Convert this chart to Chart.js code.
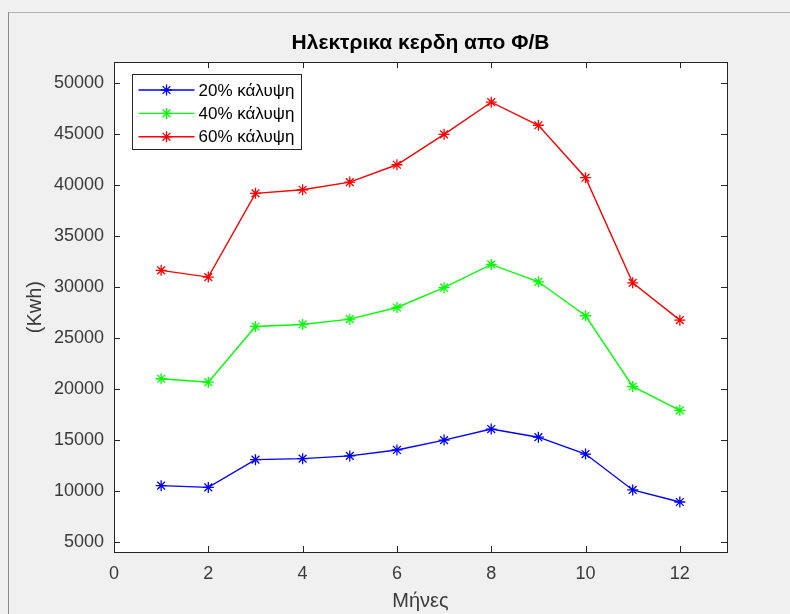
<!DOCTYPE html>
<html>
<head>
<meta charset="utf-8">
<script src="https://cdn.jsdelivr.net/npm/chart.js@4"></script>
<style>
  body { margin: 0; background: #f0f0f0; }
  #wrap { width: 790px; height: 614px; position: relative; }
</style>
</head>
<body>
<div id="wrap"><canvas id="myChart"></canvas></div>
<script>
'use strict';

// months on the x axis
const months = [1, 2, 3, 4, 5, 6, 7, 8, 9, 10, 11, 12];
const cover20 = [10500, 10330, 13050, 13150, 13420, 14000, 14970, 16050, 15250, 13600, 10080, 8900];
const cover40 = [20980, 20640, 26100, 26300, 26820, 27960, 29900, 32180, 30480, 27150, 20220, 17880];
const cover60 = [31600, 30940, 39150, 39500, 40250, 41950, 44930, 48080, 45820, 40680, 30380, 26720];
const seriesLabels = ['20% κάλυψη', '40% κάλυψη', '60% κάλυψη'];
const xTicks = [0, 2, 4, 6, 8, 10, 12];
const yTicks = [5000, 10000, 15000, 20000, 25000, 30000, 35000, 40000, 45000, 50000];

const FONT = "'Liberation Sans', Arial, sans-serif";
const AXIS_COLOR = '#262626';

Chart.defaults.font.family = FONT;

function pts(vals) {
    return months.map((m, i) => ({ x: m, y: vals[i] }));
}

function mkSet(label, vals, color) {
    return {
        label: label,
        data: pts(vals),
        borderColor: color,
        backgroundColor: color,
        borderWidth: 1.4,
        pointStyle: 'star',
        pointRadius: 5.5,
        pointBorderWidth: 1.3,
        pointBorderColor: color,
        tension: 0
    };
}

function drawStar(c, x, y, r) {
    c.beginPath();
    c.moveTo(x - r, y); c.lineTo(x + r, y);
    c.moveTo(x, y - r); c.lineTo(x, y + r);
    const d = r * 0.7071;
    c.moveTo(x - d, y - d); c.lineTo(x + d, y + d);
    c.moveTo(x - d, y + d); c.lineTo(x + d, y - d);
    c.stroke();
}

// figure background, white axes, matlab style box + inward ticks, legend
const matlabLook = {
    id: 'matlabLook',
    beforeDraw(chart) {
        const c = chart.ctx, a = chart.chartArea;
        c.save();
        c.fillStyle = '#f0f0f0';
        c.fillRect(0, 0, chart.width, chart.height);
        c.fillStyle = '#ffffff';
        c.fillRect(a.left, a.top, a.right - a.left, a.bottom - a.top);
        // window edges
        c.strokeStyle = '#b4b4b4';
        c.lineWidth = 1;
        c.beginPath(); c.moveTo(8, 12.5); c.lineTo(chart.width, 12.5); c.stroke();
        c.strokeStyle = '#8c8c8c';
        c.beginPath(); c.moveTo(8.5, 12); c.lineTo(8.5, chart.height); c.stroke();
        c.restore();
    },
    afterDatasetsDraw(chart) {
        const c = chart.ctx, a = chart.chartArea;
        const xs = chart.scales.x, ys = chart.scales.y;
        const tl = 6;
        c.save();
        c.strokeStyle = AXIS_COLOR;
        c.lineWidth = 1;
        c.beginPath();
        xs.ticks.forEach(t => {
            const px = Math.round(xs.getPixelForValue(t.value)) + 0.5;
            c.moveTo(px, a.bottom); c.lineTo(px, a.bottom - tl);
            c.moveTo(px, a.top); c.lineTo(px, a.top + tl);
        });
        ys.ticks.forEach(t => {
            const py = Math.round(ys.getPixelForValue(t.value)) + 0.5;
            c.moveTo(a.left, py); c.lineTo(a.left + tl, py);
            c.moveTo(a.right, py); c.lineTo(a.right - tl, py);
        });
        c.stroke();
        c.strokeRect(Math.round(a.left) + 0.5, Math.round(a.top) + 0.5,
            Math.round(a.right - a.left), Math.round(a.bottom - a.top));
        c.restore();
    },
    afterDraw(chart) {
        const c = chart.ctx, a = chart.chartArea;
        const bx = Math.round(a.left + 18) + 0.5, by = Math.round(a.top + 12) + 0.5;
        const bw = 169, bh = 75;
        c.save();
        c.fillStyle = '#ffffff';
        c.fillRect(bx, by, bw, bh);
        c.strokeStyle = AXIS_COLOR;
        c.lineWidth = 1;
        c.strokeRect(bx, by, bw, bh);
        c.font = '17px ' + FONT;
        c.textBaseline = 'middle';
        c.textAlign = 'left';
        chart.data.datasets.forEach((ds, i) => {
            const y = by + 15.5 + i * 23.4;
            c.strokeStyle = ds.borderColor;
            c.lineWidth = 1.4;
            c.beginPath(); c.moveTo(bx + 6, y); c.lineTo(bx + 62, y); c.stroke();
            c.lineWidth = 1.3;
            drawStar(c, bx + 34, y, 5.5);
            c.fillStyle = '#000000';
            c.fillText(ds.label, bx + 66, y + 1);
        });
        c.restore();
    }
};

const ctx = document.getElementById('myChart').getContext('2d');

const myChart = new Chart(ctx, {
    type: 'line',
    data: {
        datasets: [
            mkSet(seriesLabels[0], cover20, '#0000ff'),
            mkSet(seriesLabels[1], cover40, '#00ff00'),
            mkSet(seriesLabels[2], cover60, '#ff0000')
        ]
    },
    plugins: [matlabLook],
    options: {
        responsive: true,
        maintainAspectRatio: false,
        animation: false,
        layout: { padding: { left: 0, right: 63, top: 0, bottom: 0 } },
        plugins: {
            legend: { display: false },
            tooltip: { enabled: false },
            title: {
                display: true,
                fullSize: false,
                text: 'Ηλεκτρικα κερδη απο Φ/Β',
                color: '#000000',
                font: { size: 21, weight: 'bold', family: FONT },
                padding: { top: 31, bottom: 6 }
            }
        },
        scales: {
            x: {
                type: 'linear',
                min: 0,
                max: 13,
                afterBuildTicks: s => { s.ticks = xTicks.map(v => ({ value: v })); },
                afterFit: s => { s.height = 62; },
                grid: { drawOnChartArea: false, drawTicks: false },
                border: { display: false },
                ticks: {
                    color: '#3a3a3a',
                    padding: 11,
                    font: { size: 18 },
                    callback: v => String(v)
                },
                title: {
                    display: true,
                    text: 'Μήνες',
                    color: '#3a3a3a',
                    font: { size: 20 },
                    padding: { top: 0, bottom: 1 }
                }
            },
            y: {
                type: 'linear',
                min: 4000,
                max: 52000,
                afterBuildTicks: s => { s.ticks = yTicks.map(v => ({ value: v })); },
                afterFit: s => { s.width = 114; },
                grid: { drawOnChartArea: false, drawTicks: false },
                border: { display: false },
                ticks: {
                    color: '#3a3a3a',
                    padding: 10,
                    font: { size: 18 },
                    callback: v => String(v)
                },
                title: {
                    display: true,
                    text: '(Kwh)',
                    color: '#3a3a3a',
                    font: { size: 20 },
                    padding: { top: 23, bottom: 0 }
                }
            }
        }
    }
});
</script>
</body>
</html>
